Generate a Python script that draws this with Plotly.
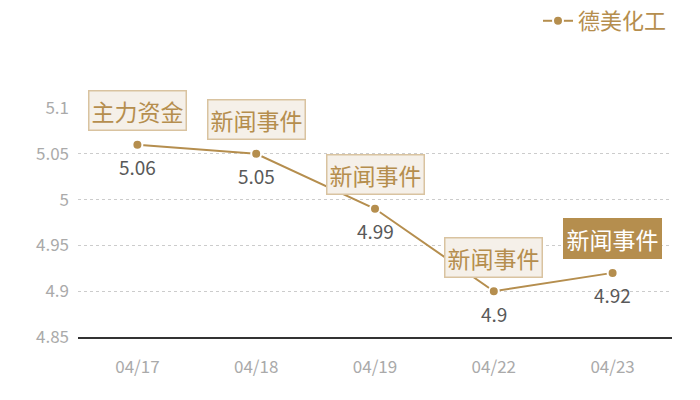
import plotly.graph_objects as go

# data
dates = ["04/17", "04/18", "04/19", "04/22", "04/23"]
prices = [5.06, 5.05, 4.99, 4.90, 4.92]
events = ["主力资金", "新闻事件", "新闻事件", "新闻事件", "新闻事件"]
series_name = "德美化工"
y_ticks = [4.85, 4.9, 4.95, 5, 5.05, 5.1]

gold = "#b58e4e"
font_cn = "Noto Sans CJK SC"

fig = go.Figure()
fig.add_trace(go.Scatter(
    x=dates, y=prices, name=series_name,
    mode="lines+markers",
    line=dict(color=gold, width=2),
    marker=dict(color=gold, size=10, line=dict(color="white", width=2)),
    cliponaxis=False,
))

for i, (d, p, ev) in enumerate(zip(dates, prices, events)):
    last = i == len(dates) - 1
    # event box above the point, last one highlighted
    fig.add_annotation(
        x=d, y=p, text=ev, showarrow=False, yshift=34,
        font=dict(size=23, family=font_cn, color="white" if last else gold),
        bgcolor=gold if last else "#f5f0e9",
        bordercolor=gold if last else "#d9c3a0",
        borderwidth=1.5, borderpad=2,
    )
    # value label under the point
    fig.add_annotation(
        x=d, y=p, text=f"{p:g}", showarrow=False, yshift=-22,
        font=dict(size=19, family=font_cn, color="#595959"),
    )

# page body has an 8px margin, so the figure is a bit smaller than the window
fig.update_layout(
    width=692, height=392,
    margin=dict(l=70, r=28, t=100, b=63, autoexpand=False),
    paper_bgcolor="white", plot_bgcolor="white",
    font=dict(family=font_cn),
    showlegend=True,
    legend=dict(x=1.0, y=1.38, xanchor="right", yanchor="middle",
                font=dict(size=22, color=gold, family=font_cn),
                bgcolor="rgba(0,0,0,0)", itemwidth=30),
    xaxis=dict(type="category", range=[-0.5, 4.5], showgrid=False,
               showline=True, linecolor="#333", linewidth=1.5,
               ticks="", tickfont=dict(size=17, color="#aaaaaa"),
               ticklabelstandoff=14, automargin=False),
    yaxis=dict(range=[4.85, 5.1], tickvals=y_ticks,
               ticktext=[f"{v:g}" for v in y_ticks],
               showgrid=True, gridcolor="#cccccc", griddash="dot",
               zeroline=False, showline=False, ticks="",
               tickfont=dict(size=17, color="#aaaaaa"),
               ticklabelstandoff=8, automargin=False),
)

fig.write_html("out.html")
